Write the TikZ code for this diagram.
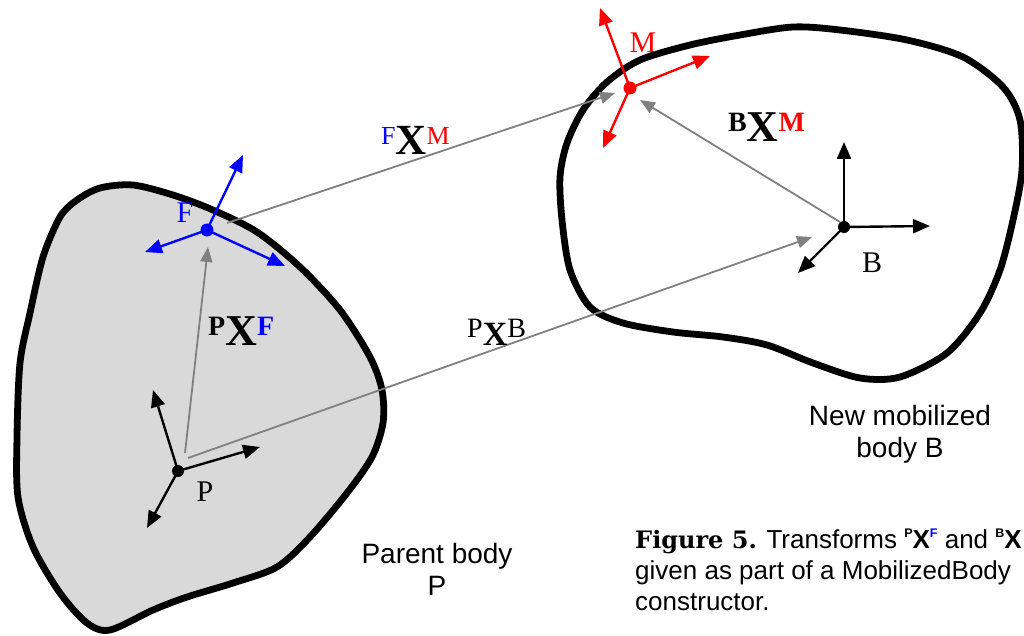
\documentclass[tikz,border=0pt]{standalone}
\usepackage{fontspec}
\setmainfont{Liberation Serif}
\setsansfont{Liberation Sans}
\newfontfamily\capfont{DejaVu Serif}
\usetikzlibrary{arrows.meta}
\definecolor{xgray}{RGB}{128,128,128}
\definecolor{fblue}{RGB}{0,0,255}
\definecolor{mred}{RGB}{255,0,0}
\definecolor{pfill}{RGB}{217,217,217}
\tikzset{every node/.style={align=center}}
\tikzset{body/.style={line width=6.8pt, black, line join=round}}
\tikzset{axis/.style={line width=2.4pt, -{Triangle[length=17pt,width=14pt]}}}
\tikzset{xform/.style={line width=1.8pt, xgray, -{Triangle[length=15pt,width=12pt]}}}
\tikzset{dot/.style={circle, fill, inner sep=0pt, minimum size=13pt}}
\tikzset{frm/.style={inner sep=0pt, font=\fontsize{30}{30}\selectfont}}
\tikzset{lbl/.style={inner sep=0pt, anchor=base west}}
\tikzset{txt/.style={inner sep=0pt, font=\sffamily\fontsize{28}{32}\selectfont}}
\newcommand{\fsz}[1]{\fontsize{#1}{#1}\selectfont}
\newcommand{\bigX}[2]{\raisebox{#2}{\fsz{#1}\bfseries X}}
\newcommand{\sups}[2][black]{\raisebox{11pt}{\color{#1}\fsz{12.5}\bfseries #2}}

\begin{document}
\begin{tikzpicture}[x=1pt, y=-1pt]
		\useasboundingbox (0,0) rectangle (1024,636);

		% Coordinates
		\coordinate (P) at (178,471);
		\coordinate (F) at (207,230);
		\coordinate (M) at (630,88);
		\coordinate (B) at (844,227);
		%% Axis tips
		\coordinate (Px) at (260,447);
		\coordinate (Py) at (153,390);
		\coordinate (Pz) at (147,528);
		\coordinate (Fx) at (285,266);
		\coordinate (Fy) at (243,155);
		\coordinate (Fz) at (145,252);
		\coordinate (Mx) at (710,56);
		\coordinate (My) at (600,8);
		\coordinate (Mz) at (603,148);
		\coordinate (Bx) at (930,226);
		\coordinate (By) at (844,142);
		\coordinate (Bz) at (798,273);
		%% Transform ends
		\coordinate (PF0) at (185,453);
		\coordinate (PF1) at (208,247);
		\coordinate (PB0) at (188,458);
		\coordinate (PB1) at (812,237);
		\coordinate (FM0) at (227,223);
		\coordinate (FM1) at (615,93);
		\coordinate (BM0) at (840,222);
		\coordinate (BM1) at (640,100);

		% Parent body
		\draw[body, fill=pfill] plot[smooth cycle] coordinates {(100,188) (133,185) (173,195) (213,210) (257,232) (300,267) (340,310) (370,357) (382,390) (383,423) (372,457) (347,493) (310,537) (277,567) (233,583) (187,597) (153,610) (110,630) (87,623) (60,593) (33,547) (18,497) (17,437) (20,363) (30,313) (43,257) (60,217) (77,200)};

		% Mobilized body
		\draw[body] plot[smooth cycle] coordinates {(793,27) (840,30) (907,40) (963,57) (1003,87) (1020,120) (1022,170) (1013,220) (1000,270) (980,313) (947,353) (900,377) (860,378) (813,363) (767,345) (723,337) (673,332) (623,323) (590,307) (570,270) (562,220) (560,177) (567,143) (583,110) (607,82) (640,60) (690,45) (740,35)};

		% Transforms
		\draw[xform] (PF0) -- (PF1);
		\draw[xform] (PB0) -- (PB1);
		\draw[xform] (FM0) -- (FM1);
		\draw[xform] (BM0) -- (BM1);

		% Frames
		\foreach \t in {Px,Py,Pz} \draw[axis] (P) -- (\t);
		\foreach \t in {Bx,By,Bz} \draw[axis] (B) -- (\t);
		\foreach \t in {Fx,Fy,Fz} \draw[axis, fblue] (F) -- (\t);
		\foreach \t in {Mx,My,Mz} \draw[axis, mred] (M) -- (\t);
		%% Origins
		\node[dot, minimum size=12pt] (Pd) at (P) {};
		\node[dot, minimum size=12pt] (Bd) at (B) {};
		\node[dot, fblue] (Fd) at (F) {};
		\node[dot, mred] (Md) at (M) {};
		%% Node
		\node[frm] (Plbl) at (205,492) {P};
		\node[frm] (Blbl) at (872,263) {B};
		\node[frm, fblue] (Flbl) at (185,213) {F};
		\node[frm, mred] (Mlbl) at (643,43) {M};

		% Transform labels
		\node[lbl] (PXF) at (208,335) {\bfseries\fsz{28}P\bigX{44}{-10pt}{\color{fblue}F}};
		\node[lbl] (PXB) at (467,337) {\fsz{28}P\bigX{34}{-8pt}B};
		\node[lbl] (FXM) at (381,145) {{\color{fblue}\fsz{26}F}\bigX{43}{-10pt}{\color{mred}\fsz{26}M}};
		\node[lbl] (BXM) at (728,132) {\bfseries\fsz{28}B\bigX{44}{-10pt}{\color{mred}M}};

		% Body names
		\node[txt, anchor=north] (Pname) at (437,543) {Parent body\\P};
		\node[txt, anchor=north] (Bname) at (900,405) {New mobilized\\body B};

		% Caption
		\node[lbl, align=left, font=\sffamily\fontsize{26}{31}\selectfont] (cap) at (635,610) {{\capfont\bfseries\fsz{24}Figure 5.} Transforms \textbf{\sups{P}X\sups[fblue]{F}} and \textbf{\sups{B}X}\\given as part of a MobilizedBody\\constructor.};
	\end{tikzpicture}
\end{document}
